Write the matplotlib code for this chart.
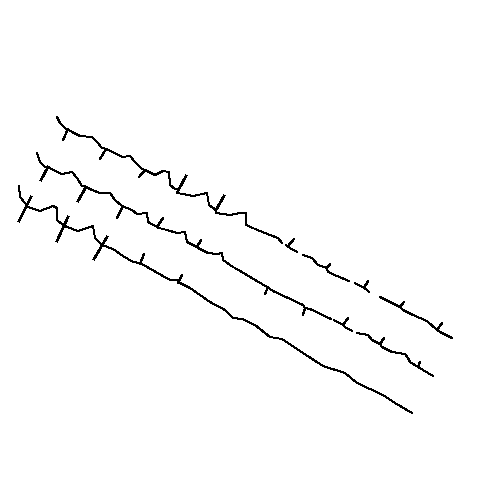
import numpy as np
import matplotlib
matplotlib.use("Agg")
import matplotlib.pyplot as plt

nan = np.nan

# traza superior
x_a = [57, 60, 65, 72, 80, 92, 97, 102, 106, 113, 122, 130, 135, 142, 145, 155, 163, 169, 170, 175, 179, 177, 183, 193, 207,
       209, 216, 216, 230, 240, 246, 246, 253, nan, 255, 260, 270, 278, 282, nan, 286, 290, 297, nan, 303, 312, 318, 327, 328,
       337, 349, nan, 355, 364, 367, 369, nan, 380, 390, 400, 403, 413, 427, 437, 440, 452]
y_a = [117, 123, 128, 132, 136, 137, 142, 148, 149, 152, 157, 156, 162, 169, 170, 175, 171, 172, 185, 189, 189, 193, 194, 196, 193,
       205, 210, 213, 215, 213, 213, 225, 228, nan, 229, 231, 235, 238, 243, nan, 245, 248, 252, nan, 255, 258, 265, 268, 272,
       276, 281, nan, 283, 288, 290, 292, nan, 297, 302, 307, 310, 315, 321, 330, 332, 338]
picos_a_x = [(68, 63), (106, 100), (145, 139), (179, 186), (216, 224), (288, 294), (327, 330), (364, 368), (400, 404), (437, 442)]
picos_a_y = [(129, 140), (149, 159), (170, 177), (189, 176), (210, 196), (246, 239), (268, 264), (288, 281), (307, 302), (330, 323)]

# traza central
x_b = [37, 40, 45, 48, 55, 62, 72, 77, 82, 86, 92, 100, 110, 115, 122, 132, 137, 147, 148, 157, 159, 167, 177, 185, 187, 197,
       198, 208, 217, 222, 223, 233, nan, 235, 267, 273, 303, 305, 310, 331, nan, 334, 343, 345, 352, nan, 357, 368, 372,
       380, 382, 392, 405, 408, 410, 418, 433]
y_b = [153, 162, 167, 167, 171, 174, 172, 178, 186, 187, 190, 193, 193, 200, 206, 210, 214, 213, 222, 227, 228, 230, 233, 232, 242, 247,
       248, 253, 254, 253, 260, 267, nan, 268, 287, 291, 305, 308, 309, 319, nan, 320, 325, 327, 331, nan, 333, 335, 340,
       344, 347, 352, 354, 358, 362, 367, 376]
picos_b_x = [(48, 41), (86, 78), (123, 117), (157, 163), (197, 201), (268, 265), (305, 303), (343, 348), (380, 384), (418, 420)]
picos_b_y = [(167, 180), (187, 201), (206, 218), (227, 218), (247, 240), (287, 294), (308, 315), (325, 318), (344, 338), (367, 362)]

# traza inferior
x_c = [19, 20, 25, 28, 40, 53, 57, 57, 63, 67, 78, 93, 95, 102, 113, 123, 133, 140, 170, 178, 180, 190, 210, 225, 233, 242,
       255, 270, 282, 288, 303, 323, 345, 357, 383, 395, 412]
y_c = [186, 197, 203, 207, 211, 206, 208, 220, 225, 227, 231, 226, 238, 245, 249, 256, 262, 263, 280, 280, 283, 288, 302, 310, 318, 319,
       325, 337, 339, 343, 353, 366, 373, 383, 395, 403, 413]
picos_c_x = [(31, 19), (68, 57), (107, 94), (144, 140), (182, 178)]
picos_c_y = [(197, 221), (217, 241), (237, 259), (254, 264), (275, 283)]

fig = plt.figure(figsize=(5, 5), dpi=100)
ax = fig.add_axes([0, 0, 1, 1])

for x, y in [(x_a, y_a), (x_b, y_b), (x_c, y_c)]:
    ax.plot(x, y, color="black", linewidth=0.7, antialiased=False)

for px, py in [(picos_a_x, picos_a_y), (picos_b_x, picos_b_y), (picos_c_x, picos_c_y)]:
    for xs, ys in zip(px, py):
        largo = np.hypot(xs[1] - xs[0], ys[1] - ys[0])
        ax.plot(xs, ys, color="black", linewidth=1.1 if largo > 14 else 0.9, antialiased=False)

ax.set_xlim(0, 500)
ax.set_ylim(500, 0)
ax.axis("off")

fig.savefig("out.png", dpi=100, facecolor="white")
